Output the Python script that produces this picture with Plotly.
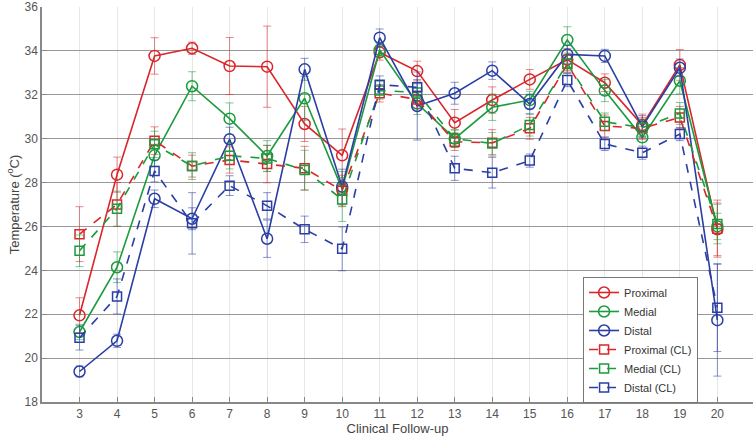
import plotly.graph_objects as go

followup = list(range(3, 21))

proximal = [21.95, 28.36, 33.77, 34.12, 33.31, 33.28, 30.67, 29.24, 33.93, 33.08, 30.73, 31.76, 32.70, 33.60, 32.55, 30.62, 33.36, 25.87]
proximal_err = [0.80, 0.80, 0.83, 0.28, 1.30, 1.85, 0.80, 1.20, 0.35, 0.45, 0.60, 0.60, 0.45, 0.50, 0.40, 0.50, 0.70, 1.20]
medial = [21.19, 24.14, 29.24, 32.39, 30.91, 29.21, 31.84, 27.70, 34.04, 31.60, 30.00, 31.43, 31.76, 34.50, 32.19, 30.06, 32.64, 26.00]
medial_err = [0.35, 0.70, 0.50, 0.66, 0.72, 0.70, 1.00, 0.80, 0.30, 0.50, 0.40, 0.60, 0.40, 0.60, 0.50, 0.50, 0.60, 0.60]
distal = [19.39, 20.79, 27.26, 26.35, 29.97, 25.44, 33.16, 27.81, 34.60, 31.49, 32.07, 33.10, 31.58, 33.84, 33.77, 30.55, 33.23, 21.73]
distal_err = [0.25, 0.30, 0.40, 0.50, 0.55, 0.85, 0.50, 0.80, 0.40, 1.55, 0.50, 0.40, 0.45, 0.40, 0.30, 0.50, 0.40, 2.55]

proximal_cl = [25.65, 27.00, 29.91, 28.75, 29.03, 28.84, 28.65, 27.63, 32.07, 31.79, 29.86, 29.81, 30.47, 33.40, 30.58, 30.47, 30.97, 25.90]
proximal_cl_err = [1.25, 1.00, 0.63, 0.50, 0.60, 0.85, 1.00, 0.70, 0.40, 0.40, 0.40, 0.60, 0.50, 0.40, 0.50, 0.50, 0.50, 1.30]
medial_cl = [24.89, 26.81, 29.74, 28.75, 29.22, 29.10, 28.57, 27.23, 32.20, 32.10, 30.00, 29.78, 30.62, 33.43, 30.77, 30.50, 31.15, 26.11]
medial_cl_err = [0.72, 0.80, 0.60, 0.61, 0.60, 0.60, 0.90, 1.00, 0.40, 0.40, 0.40, 0.50, 0.50, 0.40, 0.40, 0.40, 0.50, 0.90]
distal_cl = [20.93, 22.81, 28.53, 26.14, 27.86, 26.94, 25.87, 24.98, 32.46, 32.34, 28.65, 28.45, 29.00, 32.67, 29.76, 29.36, 30.21, 22.30]
distal_cl_err = [0.56, 0.80, 0.50, 1.40, 0.45, 0.60, 0.60, 1.00, 0.40, 0.35, 0.55, 0.70, 0.30, 0.30, 0.30, 0.30, 0.30, 2.00]

RED = "#d9262a"
GREEN = "#1c9a3e"
BLUE = "#2a3ea6"
RED_E = "rgba(217,38,42,0.55)"
GREEN_E = "rgba(28,154,62,0.55)"
BLUE_E = "rgba(42,62,166,0.55)"

series = [
    ("Proximal", proximal, proximal_err, RED, RED_E, "solid", "circle-open", 11),
    ("Medial", medial, medial_err, GREEN, GREEN_E, "solid", "circle-open", 11),
    ("Distal", distal, distal_err, BLUE, BLUE_E, "solid", "circle-open", 11),
    ("Proximal (CL)", proximal_cl, proximal_cl_err, RED, RED_E, "dash", "square-open", 9),
    ("Medial (CL)", medial_cl, medial_cl_err, GREEN, GREEN_E, "dash", "square-open", 9),
    ("Distal (CL)", distal_cl, distal_cl_err, BLUE, BLUE_E, "dash", "square-open", 9),
]

fig = go.Figure()
for name, vals, errs, col, ecol, dash, sym, sz in series:
    fig.add_trace(go.Scatter(
        x=followup, y=vals, name=name, mode="lines+markers",
        line=dict(color=col, width=1.6, dash=dash),
        marker=dict(symbol=sym, size=sz, color=col, line=dict(width=1.5, color=col)),
        error_y=dict(type="data", array=errs, visible=True, color=ecol, thickness=1, width=4),
    ))

fig.update_layout(
    width=753, height=441,
    margin=dict(l=42, r=0, t=7, b=39),
    paper_bgcolor="white", plot_bgcolor="white",
    font=dict(family="Liberation Sans, Arial, sans-serif", size=12, color="#444"),
    legend=dict(
        x=0.761, y=0.157, xanchor="left", yanchor="middle",
        bgcolor="white", bordercolor="#777", borderwidth=1,
        font=dict(size=11, color="#333"), tracegroupgap=0,
        itemwidth=30,
    ),
    showlegend=True,
)
fig.update_xaxes(
    range=[2, 20.95], tickmode="array", tickvals=followup,
    showgrid=True, gridcolor="#e6e6e6", gridwidth=1,
    showline=True, linecolor="#888", linewidth=1.5, mirror=False,
    ticks="inside", ticklen=5, tickcolor="#888",
    zeroline=False,
    title=dict(text="Clinical Follow-up", font=dict(size=13, color="#444"), standoff=2),
    tickfont=dict(size=12, color="#555"),
)
fig.update_yaxes(
    range=[18, 36], dtick=2, tick0=18,
    showgrid=True, gridcolor="#999", gridwidth=1,
    showline=True, linecolor="#888", linewidth=1.5,
    ticks="inside", ticklen=5, tickcolor="#888",
    zeroline=False,
    title=dict(text="Temperature (<sup>o</sup>C)", font=dict(size=13, color="#444"), standoff=2),
    tickfont=dict(size=12, color="#555"),
)

fig.write_html("out.html", config={"displayModeBar": False},
               post_script="document.body.style.margin='0px';")
